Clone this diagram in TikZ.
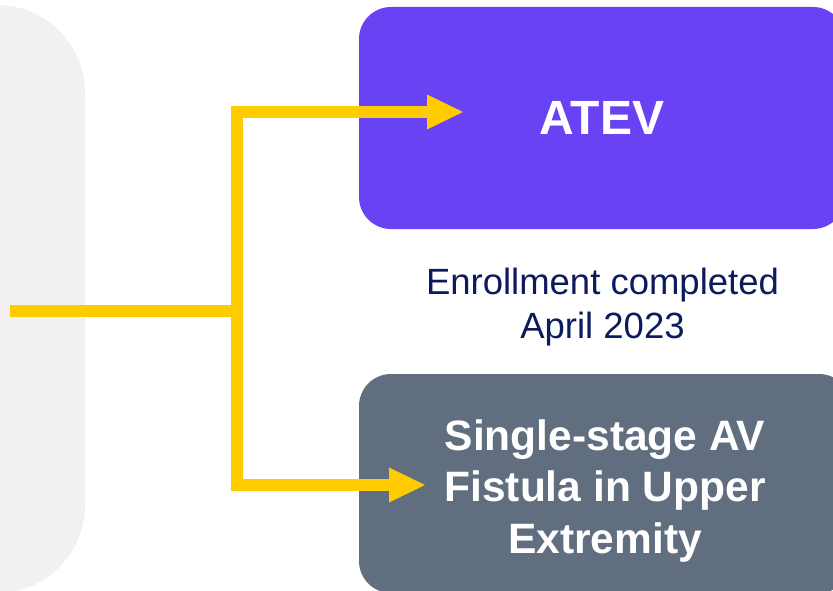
\documentclass[tikz,border=0pt]{standalone}
\usepackage{fontspec}
\setmainfont{Liberation Sans}
\usetikzlibrary{arrows.meta}

\definecolor{panelgrey}{HTML}{F2F0F1}
\definecolor{flowyellow}{HTML}{FFCC00}
\definecolor{atevpurple}{HTML}{6842F3}
\definecolor{slategrey}{HTML}{616E80}
\definecolor{navytext}{HTML}{0B1B5C}

\tikzset{
  panel/.style={fill=panelgrey, draw=none, rounded corners=88pt},
  groupbox/.style={draw=none, rounded corners=32pt, inner sep=0pt,
    text=white, align=center, font=\bfseries},
  flow/.style={draw=flowyellow, line width=12pt, line join=miter},
  flowarrow/.style={flow,
    -{Triangle[length=36pt, width=35pt, line width=0pt]}},
  note/.style={text=navytext, align=center, inner sep=0pt}
}

\begin{document}
\begin{tikzpicture}[x=1pt, y=1pt]
  \useasboundingbox (0,0) rectangle (833,-591);

  % background panel on the left, partly off the page
  \path[panel] (-300,-5) rectangle (85,-593);

  % treatment arms
  \node[groupbox, fill=atevpurple, minimum width=486pt, minimum height=222pt,
        font=\bfseries\fontsize{48}{48}\selectfont]
        (atev) at (602,-118) {ATEV};
  % multi-line text: the box baseline is the last line, so the text height
  % spans from the first cap line down to the last baseline
  \node[groupbox, fill=slategrey, minimum width=492pt, minimum height=219pt,
        text height=139pt, text depth=0pt,
        font=\bfseries\fontsize{42.5}{51.5}\selectfont]
        (avf) at (605,-483.5) {Single-stage AV\\Fistula in Upper\\Extremity};

  % enrollment status
  \node[note, text height=70pt, text depth=0pt,
        font=\fontsize{36.5}{44}\selectfont]
        (status) at (602.5,-303) {Enrollment completed\\April 2023};

  % randomisation split
  \coordinate (src) at (10,-311);
  \coordinate (split) at (237,-311);
  \coordinate (tipA) at (463,-112);
  \coordinate (tipB) at (425,-485);

  \draw[flow] (src) -- (split);
  \draw[flowarrow] (split) |- (tipA);
  \draw[flowarrow] (split) |- (tipB);
\end{tikzpicture}
\end{document}
